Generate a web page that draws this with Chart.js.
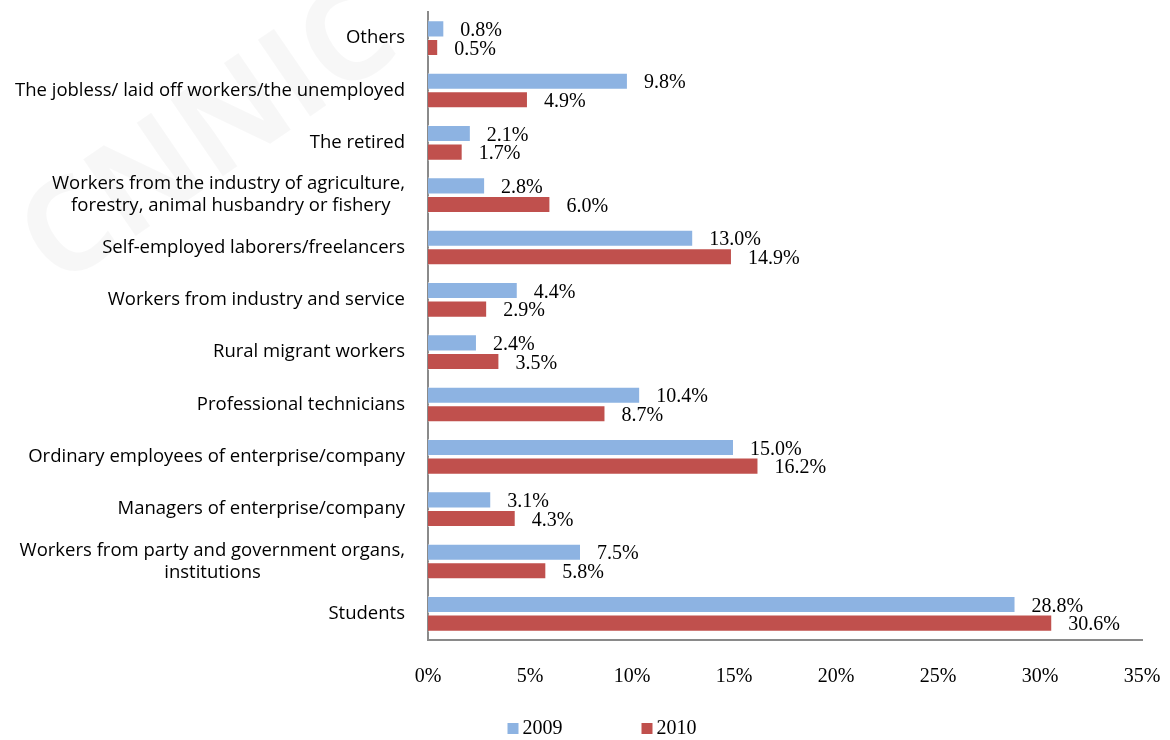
<!DOCTYPE html>
<html>
<head>
<meta charset="utf-8">
<script src="https://cdn.jsdelivr.net/npm/chart.js@4"></script>
<style>
  html, body { margin: 0; padding: 0; background: #fff; }
  #wrap { width: 1170px; height: 740px; position: relative; }
</style>
</head>
<body>
<div id="wrap"><canvas id="myChart" width="1170" height="740"></canvas></div>
<script>
// categories, top to bottom
const categories = [
  'Others',
  'The jobless/ laid off workers/the unemployed',
  'The retired',
  ['Workers from the industry of agriculture,', 'forestry, animal husbandry or fishery'],
  'Self-employed laborers/freelancers',
  'Workers from industry and service',
  'Rural migrant workers',
  'Professional technicians',
  'Ordinary employees of enterprise/company',
  'Managers of enterprise/company',
  ['Workers from party and government organs,', 'institutions'],
  'Students'
];

// share of users (%)
const values2009 = [0.8, 9.8, 2.1, 2.8, 13.0, 4.4, 2.4, 10.4, 15.0, 3.1, 7.5, 28.8];
const values2010 = [0.5, 4.9, 1.7, 6.0, 14.9, 2.9, 3.5, 8.7, 16.2, 4.3, 5.8, 30.6];

const seriesNames = ['2009', '2010'];
const seriesColors = ['#8DB3E2', '#C0504D'];

// x axis
const xMax = 35;
const xStep = 5;

const serif = '"Liberation Serif", "Times New Roman", serif';
const sans = '"Open Sans", "Noto Sans", sans-serif';
const catFontSize = 18.5;

// two-line labels are centred on each other, so pad the short line with spaces
const measureCtx = document.createElement('canvas').getContext('2d');
function centerLines(lines) {
  measureCtx.font = catFontSize + 'px ' + sans;
  const widths = lines.map(l => measureCtx.measureText(l).width);
  const maxW = Math.max(...widths);
  const sp = measureCtx.measureText(' ').width;
  return lines.map((l, i) => l + ' '.repeat(Math.round((maxW - widths[i]) / 2 / sp)));
}

// faint watermark in the background
const watermark = {
  id: 'watermark',
  beforeDraw(chart) {
    const ctx = chart.ctx;
    ctx.save();
    ctx.translate(210, 140);
    ctx.rotate(-0.6);
    ctx.font = 'bold 130px ' + sans;
    ctx.fillStyle = 'rgba(0,0,0,0.03)';
    ctx.textAlign = 'center';
    ctx.textBaseline = 'middle';
    ctx.fillText('CNNIC', 0, 0);
    ctx.restore();
  }
};

// value labels at the end of each bar
const barLabels = {
  id: 'barLabels',
  afterDatasetsDraw(chart) {
    const ctx = chart.ctx;
    ctx.save();
    ctx.font = '20px ' + serif;
    ctx.fillStyle = '#000';
    ctx.textAlign = 'left';
    ctx.textBaseline = 'middle';
    chart.data.datasets.forEach((ds, i) => {
      const meta = chart.getDatasetMeta(i);
      meta.data.forEach((bar, j) => {
        ctx.fillText(ds.data[j].toFixed(1) + '%', bar.x + 16, bar.y + 2);
      });
    });
    ctx.restore();
  }
};

// legend under the axis
const bottomLegend = {
  id: 'bottomLegend',
  afterDraw(chart) {
    const ctx = chart.ctx;
    ctx.save();
    ctx.font = '20px ' + serif;
    ctx.textBaseline = 'middle';
    const box = 11, gap = 4, spacing = 79;
    const items = chart.data.datasets.map(ds => ({
      text: ds.label, color: ds.backgroundColor,
      w: box + gap + ctx.measureText(ds.label).width
    }));
    const total = items.reduce((s, it) => s + it.w, 0) + spacing * (items.length - 1);
    let x = chart.width / 2 + 17 - total / 2;
    const y = 728;
    items.forEach(it => {
      ctx.fillStyle = it.color;
      ctx.fillRect(x, y - 5, box, box);
      ctx.fillStyle = '#000';
      ctx.fillText(it.text, x + box + gap, y + 1);
      x += it.w + spacing;
    });
    ctx.restore();
  }
};

const ctx = document.getElementById('myChart').getContext('2d');
const myChart = new Chart(ctx, {
  type: 'bar',
  data: {
    labels: categories,
    datasets: [
      { label: seriesNames[0], data: values2009, backgroundColor: seriesColors[0],
        borderColor: 'rgba(255,255,255,0.5)', borderWidth: 1 },
      { label: seriesNames[1], data: values2010, backgroundColor: seriesColors[1],
        borderColor: 'rgba(255,255,255,0.5)', borderWidth: 1 }
    ]
  },
  options: {
    indexAxis: 'y',
    responsive: false,
    animation: false,
    devicePixelRatio: 1,
    categoryPercentage: 0.71,
    barPercentage: 0.92,
    layout: { padding: { top: 12, right: 28, bottom: 0, left: 0 } },
    plugins: {
      legend: { display: false },
      tooltip: { enabled: false }
    },
    scales: {
      x: {
        min: 0,
        max: xMax,
        grid: { display: false, drawTicks: false },
        border: { display: true, color: '#8a8a8a', width: 2 },
        ticks: {
          stepSize: xStep,
          padding: 25,
          color: '#000',
          font: { family: serif, size: 20 },
          callback: v => v + '%'
        },
        afterFit(scale) {
          scale.height = 100;
          scale.paddingLeft = 0;
          scale.paddingRight = 0;
        }
      },
      y: {
        grid: { display: false, drawTicks: false },
        border: { display: true, color: '#8a8a8a', width: 2 },
        ticks: {
          padding: 23,
          color: '#000',
          font: { family: sans, size: catFontSize, lineHeight: 1.19 },
          autoSkip: false,
          callback(value) {
            const lbl = this.getLabelForValue(value);
            return Array.isArray(lbl) ? centerLines(lbl) : lbl;
          }
        },
        afterFit(scale) {
          scale.width = 428;
          scale.paddingTop = 0;
          scale.paddingBottom = 0;
        }
      }
    }
  },
  plugins: [watermark, barLabels, bottomLegend]
});
</script>
</body>
</html>
